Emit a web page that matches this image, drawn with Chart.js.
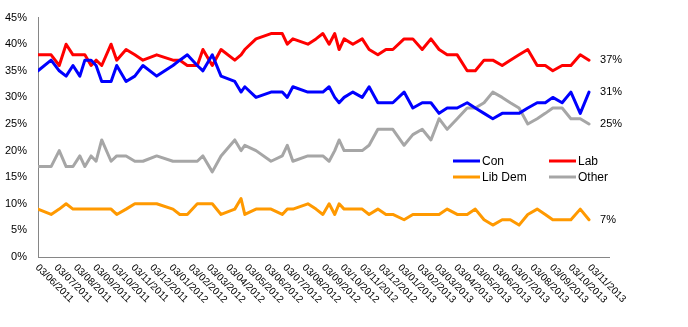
<!DOCTYPE html>
<html>
<head>
<meta charset="utf-8">
<script src="https://cdn.jsdelivr.net/npm/chart.js@4"></script>
<style>
  html, body { margin: 0; padding: 0; background: #ffffff; }
</style>
</head>
<body>
<canvas id="canvas-encuestas" width="688" height="327"></canvas>
<script>
// Fechas de cada encuesta (una por punto)
const fechas = [
  '2011-06-03', '2011-06-24', '2011-07-07', '2011-07-18', '2011-07-29', '2011-08-09',
  '2011-08-17', '2011-08-27', '2011-09-04', '2011-09-13', '2011-09-28', '2011-10-07',
  '2011-10-22', '2011-11-05', '2011-11-18', '2011-12-10', '2012-01-05', '2012-01-16',
  '2012-01-28', '2012-02-13', '2012-02-22', '2012-03-08', '2012-03-22', '2012-04-13',
  '2012-04-23', '2012-04-29', '2012-05-17', '2012-06-10', '2012-06-28', '2012-07-06',
  '2012-07-15', '2012-08-08', '2012-08-21', '2012-09-01', '2012-09-11', '2012-09-20',
  '2012-09-27', '2012-10-05', '2012-10-19', '2012-11-03', '2012-11-14', '2012-11-28',
  '2012-12-11', '2012-12-22', '2013-01-09', '2013-01-23', '2013-02-07', '2013-02-21',
  '2013-03-06', '2013-03-19', '2013-04-04', '2013-04-20', '2013-05-03', '2013-05-17',
  '2013-05-31', '2013-06-15', '2013-06-28', '2013-07-12', '2013-07-26', '2013-08-10',
  '2013-08-23', '2013-09-04', '2013-09-19', '2013-10-03', '2013-10-18', '2013-11-01'
];

// Porcentajes por partido
const con = [
  35, 37, 35, 34, 36, 34, 37, 37, 36, 33, 33, 36, 33, 34, 36, 34, 36, 37, 38, 36, 35, 38,
  34, 33, 31, 32, 30, 31, 31, 30, 32, 31, 31, 31, 32, 30, 29, 30, 31, 30, 32, 29, 29, 29,
  31, 28, 29, 29, 27, 28, 28, 29, 28, 27, 26, 27, 27, 27, 28, 29, 29, 30, 29, 31, 27, 31
];
const lab = [
  38, 38, 36, 40, 38, 38, 38, 36, 37, 36, 40, 37, 39, 38, 37, 38, 37, 37, 36, 36, 39, 36,
  39, 37, 38, 39, 41, 42, 42, 40, 41, 40, 41, 42, 40, 42, 39, 41, 40, 41, 39, 38, 39, 39,
  41, 41, 39, 41, 39, 38, 38, 35, 35, 37, 37, 36, 37, 38, 39, 36, 36, 35, 36, 36, 38, 37
];
const libDem = [
  9, 8, 9, 10, 9, 9, 9, 9, 9, 9, 9, 8, 9, 10, 10, 10, 9, 8, 8, 10, 10, 10,
  8, 9, 11, 8, 9, 9, 8, 9, 9, 10, 9, 8, 10, 8, 10, 9, 9, 9, 8, 9, 8, 8,
  7, 8, 8, 8, 8, 9, 8, 8, 9, 7, 6, 7, 7, 6, 8, 9, 8, 7, 7, 7, 9, 7
];
const otros = [
  17, 17, 20, 17, 17, 19, 17, 19, 18, 22, 18, 19, 19, 18, 18, 19, 18, 18, 18, 18, 19, 16,
  19, 22, 20, 21, 20, 18, 19, 21, 18, 19, 19, 19, 18, 20, 22, 20, 20, 20, 21, 24, 24, 24,
  21, 23, 24, 22, 26, 24, 26, 28, 28, 29, 31, 30, 29, 28, 25, 26, 27, 28, 28, 26, 26, 25
];

// Etiquetas del eje X (una por mes) y final del eje
const etiquetasMeses = [
  '03/06/2011', '03/07/2011', '03/08/2011', '03/09/2011', '03/10/2011', '03/11/2011',
  '03/12/2011', '03/01/2012', '03/02/2012', '03/03/2012', '03/04/2012', '03/05/2012',
  '03/06/2012', '03/07/2012', '03/08/2012', '03/09/2012', '03/10/2012', '03/11/2012',
  '03/12/2012', '03/01/2013', '03/02/2013', '03/03/2013', '03/04/2013', '03/05/2013',
  '03/06/2013', '03/07/2013', '03/08/2013', '03/09/2013', '03/10/2013', '03/11/2013'
];
const finEje = '03/12/2013';

const inicio = Date.UTC(2011, 5, 3);

function diasDesdeIso(iso) {
  const [a, m, d] = iso.split('-').map(Number);
  return (Date.UTC(a, m - 1, d) - inicio) / 86400000;
}

function diasDesdeEtiqueta(txt) {
  const [d, m, a] = txt.split('/').map(Number);
  return (Date.UTC(a, m - 1, d) - inicio) / 86400000;
}

function puntos(valores) {
  return valores.map((v, i) => ({ x: diasDesdeIso(fechas[i]), y: v }));
}

const series = [
  { label: 'Con', data: con, color: '#0000ff' },
  { label: 'Lab', data: lab, color: '#ff0000' },
  { label: 'Lib Dem', data: libDem, color: '#ff9900' },
  { label: 'Other', data: otros, color: '#a6a6a6' }
];

const fuente = '"Liberation Sans", Arial, sans-serif';

// Textos dibujados a mano: fechas giradas, valores finales y leyenda
const pluginTextos = {
  id: 'textos',
  afterDraw(chart) {
    const ctx = chart.ctx;
    const escalaX = chart.scales.x;
    const abajo = chart.chartArea.bottom;
    ctx.save();
    ctx.fillStyle = '#000000';

    // Fechas del eje X a 45 grados
    ctx.font = '10px ' + fuente;
    ctx.textAlign = 'left';
    ctx.textBaseline = 'middle';
    etiquetasMeses.forEach(txt => {
      const px = escalaX.getPixelForValue(diasDesdeEtiqueta(txt));
      ctx.save();
      ctx.translate(px - 1, abajo + 9);
      ctx.rotate(Math.PI / 4);
      ctx.fillText(txt, 0, 0);
      ctx.restore();
    });

    // Valor del último punto de cada serie
    ctx.font = '11px ' + fuente;
    chart.data.datasets.forEach((ds, i) => {
      const meta = chart.getDatasetMeta(i);
      const ultimo = meta.data[meta.data.length - 1];
      const valor = ds.data[ds.data.length - 1].y;
      ctx.fillText(valor + '%', ultimo.x + 11, ultimo.y);
    });

    // Leyenda dentro del área del gráfico (2 x 2)
    const posiciones = [[453, 161], [549, 161], [453, 177], [549, 177]];
    ctx.font = '12px ' + fuente;
    series.forEach((s, i) => {
      const [lx, ly] = posiciones[i];
      ctx.strokeStyle = s.color;
      ctx.lineWidth = 3;
      ctx.beginPath();
      ctx.moveTo(lx, ly);
      ctx.lineTo(lx + 27, ly);
      ctx.stroke();
      ctx.fillText(s.label, lx + 29, ly + 1);
    });
    ctx.restore();
  }
};

const ticksMeses = etiquetasMeses.map(diasDesdeEtiqueta);

new Chart(document.getElementById('canvas-encuestas'), {
  type: 'line',
  data: {
    datasets: series.map(s => ({
      label: s.label,
      data: puntos(s.data),
      borderColor: s.color,
      backgroundColor: s.color,
      borderWidth: 3,
      borderJoinStyle: 'round',
      borderCapStyle: 'round',
      pointRadius: 0,
      tension: 0,
      fill: false
    }))
  },
  options: {
    responsive: false,
    animation: false,
    devicePixelRatio: 1,
    layout: { padding: { top: 10, right: 79, bottom: 70, left: 0 } },
    plugins: {
      legend: { display: false },
      tooltip: { enabled: false }
    },
    scales: {
      x: {
        type: 'linear',
        min: 0,
        max: diasDesdeEtiqueta(finEje),
        grid: { display: false, drawTicks: false },
        border: { color: '#868686', width: 1 },
        ticks: { display: false },
        afterBuildTicks: s => { s.ticks = ticksMeses.map(v => ({ value: v })); }
      },
      y: {
        min: 0,
        max: 45,
        grid: { display: false, drawTicks: false },
        border: { color: '#868686', width: 1 },
        ticks: {
          stepSize: 5,
          padding: 11,
          color: '#000000',
          font: { family: fuente, size: 11 },
          callback: v => v + '%'
        },
        afterFit: s => { s.width = 38; }
      }
    }
  },
  plugins: [pluginTextos]
});
</script>
</body>
</html>
